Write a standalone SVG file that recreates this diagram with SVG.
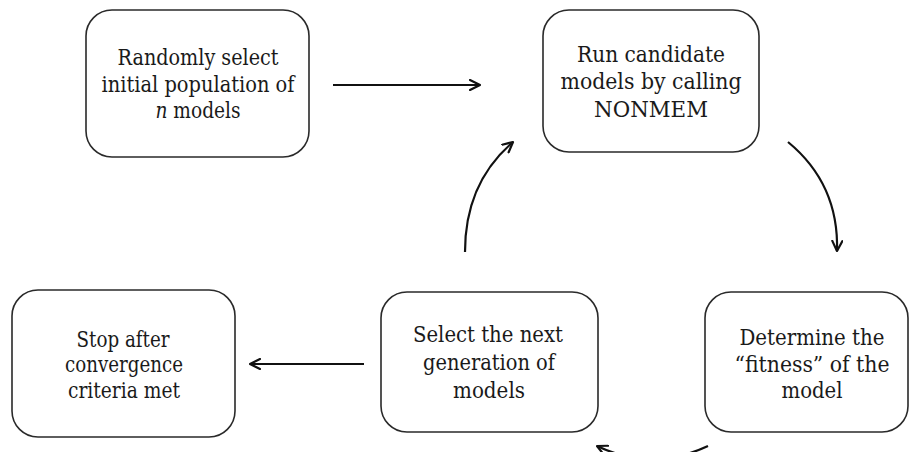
<svg xmlns="http://www.w3.org/2000/svg" width="909" height="452" viewBox="0 0 909 452">
  <defs>
    <style>
      .box { fill: #fff; stroke: #2a2a2a; stroke-width: 1.6; }
      .lbl { font-family: 'DejaVu Serif', serif; font-stretch: condensed; font-size: 22px; fill: #1a1a1a; text-anchor: middle; }
      .edge { fill: none; stroke: #111; stroke-width: 2.2; marker-end: url(#arrow); }
    </style>
    <marker id="arrow" viewBox="0 0 12 12" refX="11" refY="6" markerWidth="12" markerHeight="12" markerUnits="userSpaceOnUse" orient="auto">
      <path d="M1,1 L11,6 L1,11" fill="none" stroke="#111" stroke-width="2.2" stroke-linecap="round" stroke-linejoin="round"/>
    </marker>
  </defs>
  <rect width="909" height="452" fill="#fff"/>

  <g id="init">
    <rect class="box" x="86" y="10" width="223" height="147" rx="26"/>
    <text class="lbl" x="198" y="65" textLength="161" lengthAdjust="spacingAndGlyphs">Randomly select</text>
    <text class="lbl" x="198" y="92" textLength="193" lengthAdjust="spacingAndGlyphs">initial population of</text>
    <text class="lbl" x="198" y="118" textLength="85" lengthAdjust="spacingAndGlyphs"><tspan font-style="italic">n</tspan> models</text>
  </g>

  <g id="run">
    <rect class="box" x="543" y="10" width="216" height="142" rx="26"/>
    <text class="lbl" x="651" y="62" textLength="148" lengthAdjust="spacingAndGlyphs">Run candidate</text>
    <text class="lbl" x="651" y="89" textLength="181" lengthAdjust="spacingAndGlyphs">models by calling</text>
    <text class="lbl" x="651" y="117" textLength="114" lengthAdjust="spacingAndGlyphs">NONMEM</text>
  </g>

  <g id="fitness">
    <rect class="box" x="705" y="292" width="203" height="140" rx="26"/>
    <text class="lbl" x="812" y="345" textLength="145" lengthAdjust="spacingAndGlyphs">Determine the</text>
    <text class="lbl" x="812" y="372" textLength="155" lengthAdjust="spacingAndGlyphs">“fitness” of the</text>
    <text class="lbl" x="812" y="398" textLength="61" lengthAdjust="spacingAndGlyphs">model</text>
  </g>

  <g id="select">
    <rect class="box" x="381" y="292" width="217" height="140" rx="26"/>
    <text class="lbl" x="488" y="342" textLength="150" lengthAdjust="spacingAndGlyphs">Select the next</text>
    <text class="lbl" x="489" y="370" textLength="132" lengthAdjust="spacingAndGlyphs">generation of</text>
    <text class="lbl" x="489" y="398" textLength="72" lengthAdjust="spacingAndGlyphs">models</text>
  </g>

  <g id="stop">
    <rect class="box" x="12" y="290" width="223" height="147" rx="26"/>
    <text class="lbl" x="123" y="347" textLength="93" lengthAdjust="spacingAndGlyphs">Stop after</text>
    <text class="lbl" x="124" y="372" textLength="118" lengthAdjust="spacingAndGlyphs">convergence</text>
    <text class="lbl" x="124" y="398" textLength="112" lengthAdjust="spacingAndGlyphs">criteria met</text>
  </g>

  <g id="connectors">
    <path class="edge" d="M333,85 L480,85"/>
    <path class="edge" d="M788,142 Q839,184 837,251"/>
    <path class="edge" d="M708,446 Q652,472 597,446"/>
    <path class="edge" d="M465,252 Q465,183 513,142"/>
    <path class="edge" d="M364,364 L250,364"/>
  </g>
</svg>
